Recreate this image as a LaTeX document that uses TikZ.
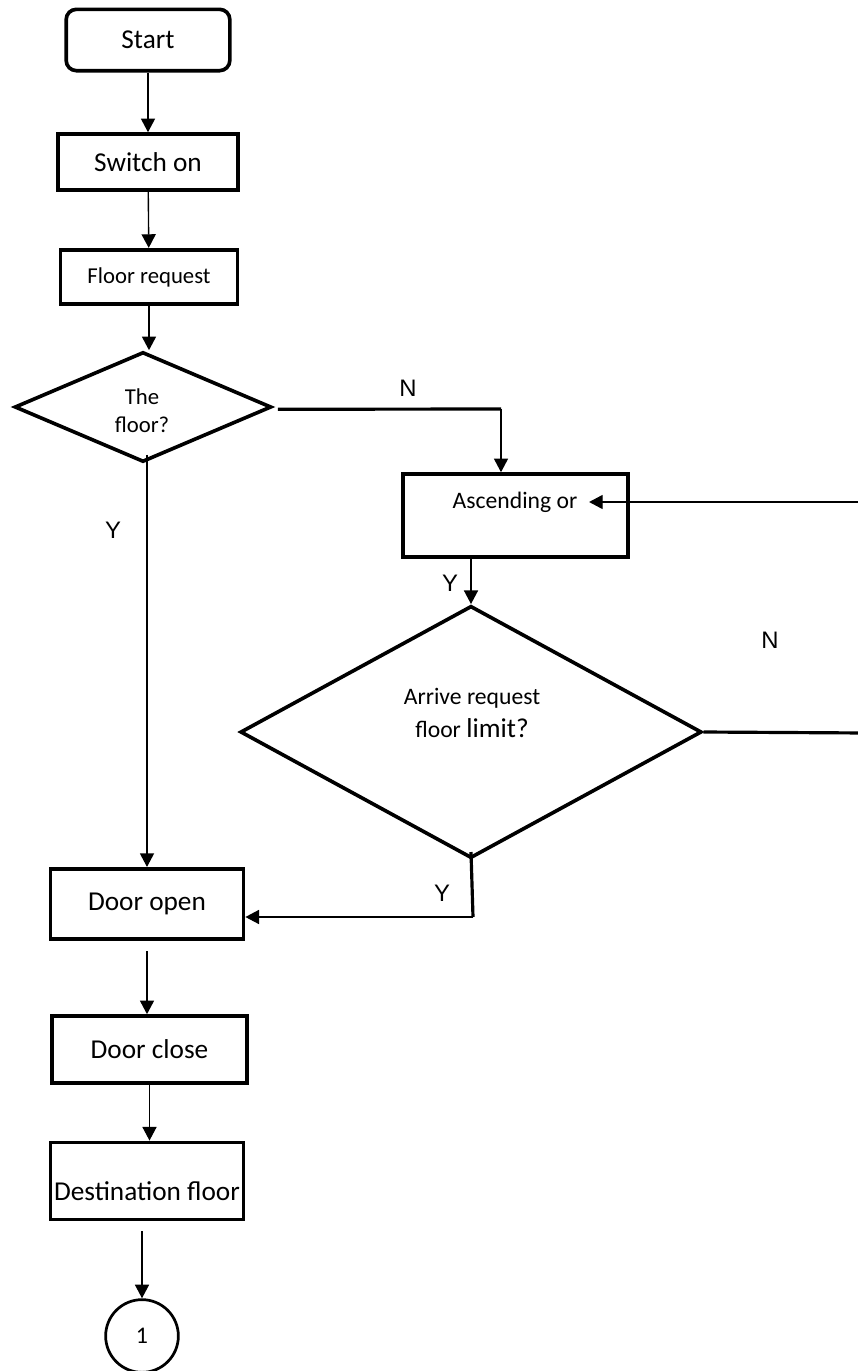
\documentclass[tikz,border=0pt]{standalone}
\usepackage{fontspec}
\setmainfont{Carlito}
\newfontfamily\yesnofont{Liberation Sans}
\usetikzlibrary{shapes.geometric,arrows.meta}
\begin{document}
\begin{tikzpicture}[x = 0.44pt, y = -0.44pt,
  box/.style = {draw, line width = 1.6pt, inner sep = 0pt, font = \fontsize{12}{14}\selectfont},
  decision/.style = {draw, diamond, line width = 1.6pt, inner sep = 0pt, align = center, font = \fontsize{10}{12.3}\selectfont},
  flow/.style = {-{Triangle[length = 6pt, width = 6.2pt]}, line width = 0.6pt},
  heavy/.style = {line width = 1.4pt},
  yn/.style = {font = \yesnofont\fontsize{10.5}{12}\selectfont}]
\useasboundingbox (0,0) rectangle (858,1371);
\node [box, rounded corners = 4.5pt, minimum width = 72pt, minimum height = 27pt] (start) at (148,40) {Start};
\node [box, minimum width = 79pt, minimum height = 24.6pt] (switch) at (148,162) {Switch on};
\node [box, minimum width = 78pt, minimum height = 24pt, font = \fontsize{10}{12}\selectfont] (request) at (149,277) {Floor request};
\node [decision, minimum width = 113pt, minimum height = 48.4pt] (floor) at (143,407) {};
\node [align = center, font = \fontsize{10}{12.3}\selectfont] (floortext) at (142,411) {The\\floor?};
\node [box, minimum width = 99pt, minimum height = 36.5pt] (ascend) at (515.5,515.5) {};
\node [font = \fontsize{10.4}{12}\selectfont, inner sep = 2pt] (asctext) at (515,502) {Ascending or};
\node [decision, minimum width = 203pt, minimum height = 111pt] (limit) at (471,732) {};
\node [align = center, font = \fontsize{10.4}{14.5}\selectfont] (limtext) at (472,713) {Arrive request\\floor {\fontsize{12}{14.5}\selectfont limit?}};
\node [box, minimum width = 85pt, minimum height = 31pt] (open) at (147,904) {Door open};
\node [box, minimum width = 86pt, minimum height = 29.5pt] (close) at (149.5,1049.5) {Door close};
\node [box, minimum width = 85pt, minimum height = 34pt] (dest) at (147,1181) {};
\node [font = \fontsize{12}{14}\selectfont] (desttext) at (147,1191) {Destination floor};
\node [draw, circle, line width = 1.2pt, minimum size = 32pt, inner sep = 0pt, font = \fontsize{10.5}{12}\selectfont] (conn) at (142,1336) {1};
\coordinate (nturn) at (501,409);
\coordinate (loop) at (866,733);
\coordinate (ybend) at (473,917);
\draw [flow] (start) -- (switch);
\draw [flow] (switch) -- (request);
\draw [flow] (request.south) -- (request.south |- floor.north);
\draw [heavy] (floor.east) ++(2pt,-1pt) -- (nturn);
\draw [flow] (nturn) -- (nturn |- ascend.north);
\draw [flow] ([yshift = 4pt]open.north |- floor.south) -- (open.north);
\draw [flow] (limit.north |- ascend.south) -- (limit.north);
\draw [heavy] (limit.east) -- (loop);
\draw [flow] (loop) |- ([xshift = 3pt]asctext.east);
\draw [heavy] ([yshift = 3.5pt]limit.south) -- (ybend);
\draw [flow] (ybend) -- (ybend -| open.east);
\draw [flow, shorten <= 4.4pt] (open.south) -- (open.south |- close.north);
\draw [flow] (close.south) -- (close.south |- dest.north);
\draw [flow, shorten <= 4.4pt] (conn.north |- dest.south) -- (conn.north);
\node [yn] (nfloor) at (408,388) {N};
\node [yn] (yfloor) at (113,530) {Y};
\node [yn] (yascend) at (450,583) {Y};
\node [yn] (nlimit) at (770,640) {N};
\node [yn] (ylimit) at (442,893) {Y};
\end{tikzpicture}
\end{document}
